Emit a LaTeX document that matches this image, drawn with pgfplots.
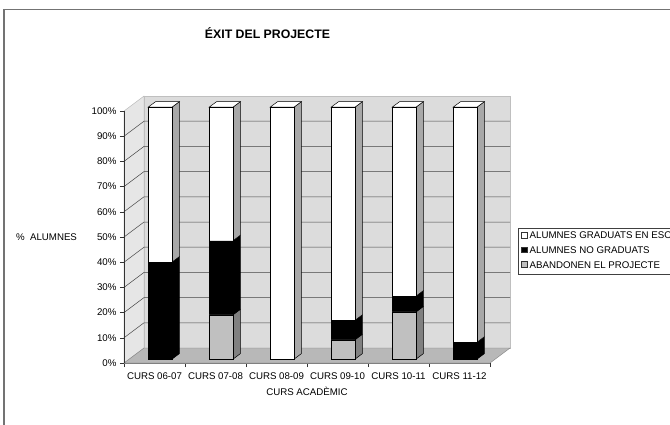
\documentclass[border=0pt]{standalone}
\usepackage{pgfplots}
\pgfplotsset{compat=1.18}
\usepackage{fontspec}
\setmainfont{Liberation Sans}
\definecolor{backwall}{HTML}{DCDCDC}
\definecolor{leftwall}{HTML}{E6E6E6}
\definecolor{floorc}{HTML}{B8B8B8}
\definecolor{grayf}{HTML}{C0C0C0}
\definecolor{grays}{HTML}{808080}
\definecolor{whites}{HTML}{A8A8A8}
\definecolor{gridc}{HTML}{454545}
\newcommand{\sm}{\fontsize{9.7pt}{11pt}\selectfont}
\pgfplotsset{
  legsq/.style={legend image code/.code={\draw[##1,draw=black!80,line width=0.4pt] (0.5pt,-1.5pt) rectangle (6pt,4pt); \path (8.5pt,0pt);}},
  common/.style={x=61pt,y=2.52pt,xmin=-0.5,xmax=5.5,ymin=0,ymax=100,enlargelimits=false,clip=false}
}
\begin{document}
\begin{tikzpicture}
\useasboundingbox (0pt,0pt) rectangle (670pt,-424pt);
\fill[white] (0pt,0pt) rectangle (670pt,-424pt);
\draw[gray!90!black,line width=1.2pt] (4pt,-430pt) -- (4pt,-9.5pt) -- (680pt,-9.5pt);
% front plane axis
\begin{axis}[common,
  at={(124pt,-363pt)}, anchor=south west,
  axis on top=true,
  axis x line*=bottom, axis y line*=left,
  axis line style={-},
  x axis line style={draw=gray},
  y axis line style={draw=black!80},
  tick align=outside, major tick length=4pt,
  tick style={black!80,line width=0.5pt},
  xtick={-0.5,0.5,1.5,2.5,3.5,4.5,5.5},
  x tick label as interval,
  xticklabels={CURS 06-07,CURS 07-08,CURS 08-09,CURS 09-10,CURS 10-11,CURS 11-12},
  ytick={0,10,20,30,40,50,60,70,80,90,100},
  yticklabels={0\%,10\%,20\%,30\%,40\%,50\%,60\%,70\%,80\%,90\%,100\%},
  tick label style={font=\sm},
  xticklabel style={yshift=-2pt},
  xlabel={CURS ACADÈMIC},
  ylabel={\%\ \ ALUMNES},
  title={ÉXIT DEL PROJECTE},
  every axis x label/.style={at={(axis description cs:0.5,-0.111)},anchor=center,font=\sm},
  every axis y label/.style={at={(axis description cs:-0.2117,0.5)},anchor=center,font=\sm},
  every axis title/.style={at={(axis description cs:0.392,1.3107)},anchor=center,font=\bfseries\fontsize{12.3pt}{14pt}\selectfont},
]
\fill[leftwall,draw=black!30] (axis cs:-0.5,0) -- ++(20pt,15pt) -- ++(0pt,252pt) -- ++(-20pt,-15pt) -- cycle;
\fill[backwall,draw=black!25] (axis cs:-0.5,0) ++(20pt,15pt) rectangle ++(366pt,252pt);
\fill[floorc,draw=gray] (axis cs:-0.5,0) -- ++(20pt,15pt) -- ++(366pt,0pt) -- ++(-20pt,-15pt) -- cycle;
\pgfplotsinvokeforeach{10,20,30,40,50,60,70,80,90}{
  \draw[gridc,line width=0.5pt] (axis cs:-0.5,#1) -- ++(20pt,15pt) -- ++(366pt,0pt);
}
\end{axis}
% bar side and top faces
\begin{axis}[common, at={(129.5pt,-359.2pt)}, anchor=south west, hide axis]
\addplot[fill=black,draw=black,line width=0.5pt] coordinates {(0.195,0)(0.316,2.18)(0.316,40.68)(0.195,38.5)} --cycle;
\addplot[fill=whites,draw=black,line width=0.5pt] coordinates {(0.195,38.5)(0.316,40.68)(0.316,102.18)(0.195,100)} --cycle;
\addplot[fill=white,draw=black,line width=0.5pt] coordinates {(-0.195,100)(0.195,100)(0.316,102.18)(-0.074,102.18)} --cycle;
\addplot[fill=grays,draw=black,line width=0.5pt] coordinates {(1.195,0)(1.316,2.18)(1.316,19.78)(1.195,17.6)} --cycle;
\addplot[fill=black,draw=black,line width=0.5pt] coordinates {(1.195,17.6)(1.316,19.78)(1.316,49.18)(1.195,47)} --cycle;
\addplot[fill=whites,draw=black,line width=0.5pt] coordinates {(1.195,47)(1.316,49.18)(1.316,102.18)(1.195,100)} --cycle;
\addplot[fill=white,draw=black,line width=0.5pt] coordinates {(0.805,100)(1.195,100)(1.316,102.18)(0.926,102.18)} --cycle;
\addplot[fill=whites,draw=black,line width=0.5pt] coordinates {(2.195,0)(2.316,2.18)(2.316,102.18)(2.195,100)} --cycle;
\addplot[fill=white,draw=black,line width=0.5pt] coordinates {(1.805,100)(2.195,100)(2.316,102.18)(1.926,102.18)} --cycle;
\addplot[fill=grays,draw=black,line width=0.5pt] coordinates {(3.195,0)(3.316,2.18)(3.316,9.88)(3.195,7.7)} --cycle;
\addplot[fill=black,draw=black,line width=0.5pt] coordinates {(3.195,7.7)(3.316,9.88)(3.316,17.58)(3.195,15.4)} --cycle;
\addplot[fill=whites,draw=black,line width=0.5pt] coordinates {(3.195,15.4)(3.316,17.58)(3.316,102.18)(3.195,100)} --cycle;
\addplot[fill=white,draw=black,line width=0.5pt] coordinates {(2.805,100)(3.195,100)(3.316,102.18)(2.926,102.18)} --cycle;
\addplot[fill=grays,draw=black,line width=0.5pt] coordinates {(4.195,0)(4.316,2.18)(4.316,20.93)(4.195,18.75)} --cycle;
\addplot[fill=black,draw=black,line width=0.5pt] coordinates {(4.195,18.75)(4.316,20.93)(4.316,27.18)(4.195,25)} --cycle;
\addplot[fill=whites,draw=black,line width=0.5pt] coordinates {(4.195,25)(4.316,27.18)(4.316,102.18)(4.195,100)} --cycle;
\addplot[fill=white,draw=black,line width=0.5pt] coordinates {(3.805,100)(4.195,100)(4.316,102.18)(3.926,102.18)} --cycle;
\addplot[fill=black,draw=black,line width=0.5pt] coordinates {(5.195,0)(5.316,2.18)(5.316,8.88)(5.195,6.7)} --cycle;
\addplot[fill=whites,draw=black,line width=0.5pt] coordinates {(5.195,6.7)(5.316,8.88)(5.316,102.18)(5.195,100)} --cycle;
\addplot[fill=white,draw=black,line width=0.5pt] coordinates {(4.805,100)(5.195,100)(5.316,102.18)(4.926,102.18)} --cycle;
\end{axis}
% bar front faces
\begin{axis}[common, at={(129.5pt,-359.2pt)}, anchor=south west, hide axis,
  ybar stacked, bar width=0.39,
  reverse legend, legend cell align=left,
  legend style={at={(1.0615,0.5218)}, anchor=north west, draw=black!75, line width=0.5pt,
    font=\sm, row sep=5.6pt, inner xsep=3pt, inner ysep=4pt, column sep=0pt,
    nodes={inner xsep=0pt, inner ysep=0pt, text height=7pt, text depth=2pt}},
]
\addplot[fill=grayf,draw=black,line width=0.5pt,legsq] coordinates {(0,0)(1,17.6)(2,0)(3,7.7)(4,18.75)(5,0)};
\addplot[fill=black,draw=black,line width=0.5pt,legsq] coordinates {(0,38.5)(1,29.4)(2,0)(3,7.7)(4,6.25)(5,6.7)};
\addplot[fill=white,draw=black,line width=0.5pt,legsq] coordinates {(0,61.5)(1,53.0)(2,100)(3,84.6)(4,75.0)(5,93.3)};
\legend{ABANDONEN EL PROJECTE,ALUMNES NO GRADUATS,ALUMNES GRADUATS EN ESO}
\end{axis}
\end{tikzpicture}
\end{document}
